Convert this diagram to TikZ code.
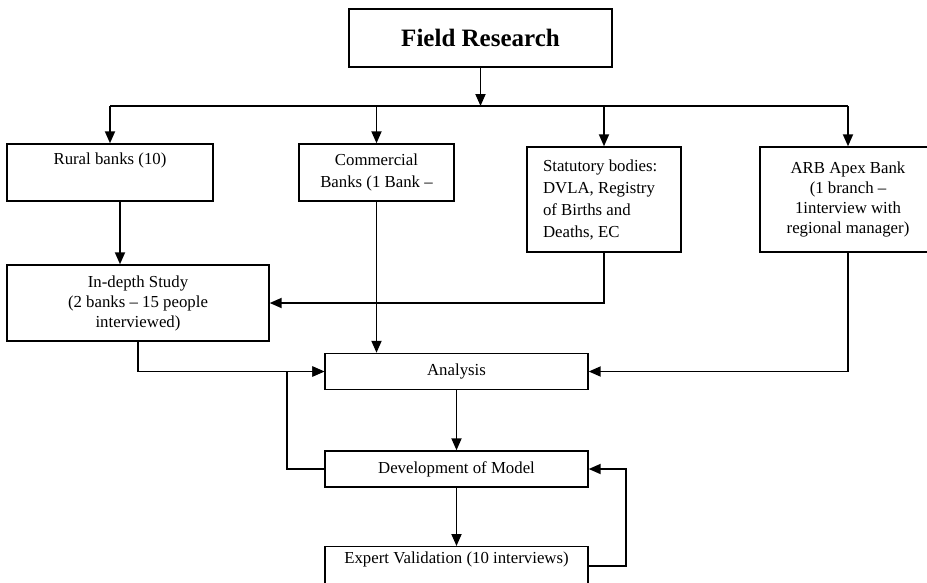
\documentclass[tikz,border=0pt]{standalone}
\usepackage{tikz}
\usepackage{fontspec}
\setmainfont{Liberation Serif}
\usetikzlibrary{arrows.meta,positioning}

\tikzset{
	box/.style={draw,line width=1.4pt,inner sep=0pt,align=center,font=\fontsize{16.8}{22}\selectfont},
	link/.style={line width=1.8pt},
	flow/.style={link,-{Triangle[length=12pt,width=10pt]}}
}

\begin{document}
\begin{tikzpicture}[x=1pt,y=-1pt]
\useasboundingbox (0,0) rectangle (927,582);
\node[box,line width=1.8pt,minimum width=263,minimum height=58,font=\bfseries\fontsize{25}{30}\selectfont] (field) at (480.5,38) {Field Research};
\node[box,minimum width=206,minimum height=57] (rural) at (110,172.5) {Rural banks (10)\\\strut};
\node[box,minimum width=155,minimum height=57] (comm) at (376.5,172.5) {Commercial\\Banks (1 Bank --};
\node[box,align=flush left,text width=122pt,inner xsep=16pt,minimum height=105] (stat) at (604,199.5) {Statutory bodies:\\DVLA, Registry\\of Births and\\Deaths, EC};
\node[box,minimum width=176,minimum height=105,font=\fontsize{16.8}{20}\selectfont] (arb) at (848,199.5) {ARB Apex Bank\\(1 branch --\\1interview with\\regional manager)};
\node[box,minimum width=262,minimum height=76,font=\fontsize{16.8}{20}\selectfont] (indepth) at (138,303) {In-depth Study\\(2 banks -- 15 people\\interviewed)};
\node[box,minimum width=263,minimum height=36] (analysis) at (456.5,371.5) {Analysis};
\node[box,minimum width=263,minimum height=36] (devel) at (456.5,469) {Development of Model};
\node[box,minimum width=263,text height=17pt,text depth=21pt,anchor=north] (expert) at (456.5,546) {Expert Validation (10 interviews)};

\coordinate (bus) at (480.5,106);
\draw[flow] (field.south) -- (bus);
\draw[link] (rural.north |- bus) -- (arb.north |- bus);
\foreach \n in {rural,comm,stat,arb}
	\draw[flow] (\n.north |- bus) -- (\n.north);

\draw[flow] ([xshift=10pt]rural.south) -- ([xshift=10pt]rural.south |- indepth.north);
\draw[flow] (stat.south) |- (indepth.east);
\draw[flow] (comm.south) -- (comm.south |- analysis.north);
\draw[flow] (indepth.south) |- (analysis.west);
\draw[flow] (arb.south) |- (analysis.east);
\draw[flow] (analysis) -- (devel);
\draw[flow] (devel.west) -- ++(-37,0) |- (analysis.west);
\draw[flow] (devel) -- (expert);
\draw[flow] (expert.east) -- ++(37,0) |- (devel.east);
\end{tikzpicture}
\end{document}
